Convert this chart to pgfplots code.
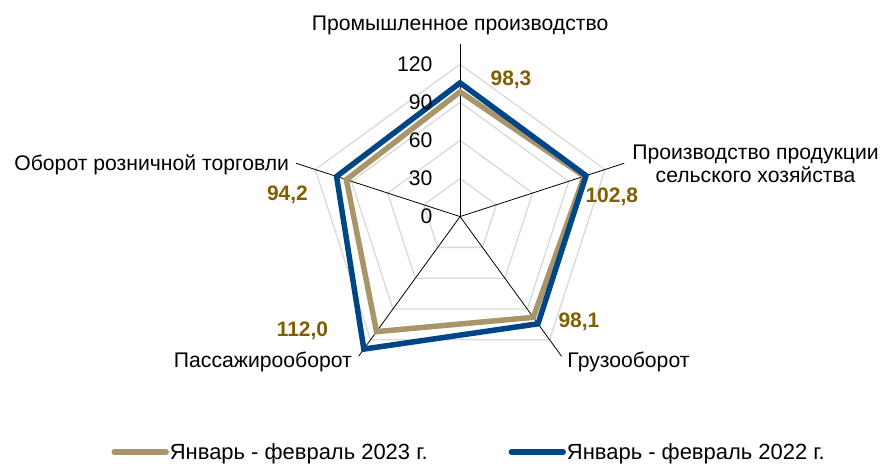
\documentclass[border=0pt]{standalone}
\usepackage{fontspec}
\setmainfont{Liberation Sans}
\usepackage{pgfplots}
\pgfplotsset{compat=1.18}
\definecolor{goldl}{HTML}{A8956A}
\definecolor{bluel}{HTML}{004586}
\definecolor{labc}{HTML}{7F5F00}
\definecolor{gridc}{HTML}{D9D9D9}
\begin{document}
\begin{tikzpicture}[font=\fontsize{21.2}{23.5}\selectfont]
\begin{axis}[x=1.272pt,y=1.272pt,
  xmin=-362.4,xmax=331.0,ymin=-193.4,ymax=170.6,
  hide axis, clip=false, scale only axis,
  legend columns=2,
  legend style={at={(0.123,0.0216)}, anchor=west, draw=none, fill=none,
    font=\fontsize{22}{24}\selectfont,
    nodes={inner sep=1pt},
    /tikz/every even column/.append style={column sep=80pt}},
  legend image code/.code={\draw[#1,line cap=round] (0pt,0pt) -- (52pt,0pt);}
]
\path (rel axis cs:0,0) rectangle (rel axis cs:1,1);
% grid rings
\addplot[gridc, line width=1.3pt, forget plot, data cs=polar] coordinates {(90,30)(18,30)(-54,30)(-126,30)(-198,30)(90,30)(18,30)};
\addplot[gridc, line width=1.3pt, forget plot, data cs=polar] coordinates {(90,60)(18,60)(-54,60)(-126,60)(-198,60)(90,60)(18,60)};
\addplot[gridc, line width=1.3pt, forget plot, data cs=polar] coordinates {(90,90)(18,90)(-54,90)(-126,90)(-198,90)(90,90)(18,90)};
\addplot[gridc, line width=1.3pt, forget plot, data cs=polar] coordinates {(90,120)(18,120)(-54,120)(-126,120)(-198,120)(90,120)(18,120)};
% spokes
\addplot[black, line width=0.8pt, forget plot, data cs=polar] coordinates {(90,0)(90,136)};
\addplot[black, line width=0.8pt, forget plot, data cs=polar] coordinates {(18,0)(18,136)};
\addplot[black, line width=0.8pt, forget plot, data cs=polar] coordinates {(-54,0)(-54,136)};
\addplot[black, line width=0.8pt, forget plot, data cs=polar] coordinates {(-126,0)(-126,136)};
\addplot[black, line width=0.8pt, forget plot, data cs=polar] coordinates {(162,0)(162,136)};
% series
\addplot[goldl, line width=5.5pt, line join=miter, data cs=polar] coordinates {(90,98.3)(18,102.8)(-54,98.1)(-126,112.0)(-198,94.2)(90,98.3)(18,102.8)};
\addlegendentry{Январь - февраль 2023 г.}
\addplot[bluel, line width=5.5pt, line join=miter, data cs=polar] coordinates {(90,105.3)(18,104.3)(-54,104.4)(-126,129)(-198,102.3)(90,105.3)(18,104.3)};
\addlegendentry{Январь - февраль 2022 г.}
% tick labels
\node[anchor=east] at (axis cs:-19,0) {0};
\node[anchor=east] at (axis cs:-19,30) {30};
\node[anchor=east] at (axis cs:-19,60) {60};
\node[anchor=east] at (axis cs:-19,90) {90};
\node[anchor=east] at (axis cs:-19,120) {120};
% category labels
\node at (axis cs:0,150.9) {Промышленное производство};
\node[align=center] at (axis cs:232.7,41.7) {Производство продукции\\сельского хозяйства};
\node[anchor=west] at (axis cs:81.8,-114.8) {Грузооборот};
\node[anchor=east] at (axis cs:-82.5,-114.8) {Пассажирооборот};
\node[anchor=east] at (axis cs:-132,40.9) {Оборот розничной торговли};
% value labels
\node[labc, font=\fontsize{21}{23}\selectfont\bfseries] at (axis cs:40.1,107.7) {98,3};
\node[labc, font=\fontsize{21}{23}\selectfont\bfseries] at (axis cs:119.5,15.7) {102,8};
\node[labc, font=\fontsize{21}{23}\selectfont\bfseries] at (axis cs:93.6,-82.5) {98,1};
\node[labc, font=\fontsize{21}{23}\selectfont\bfseries] at (axis cs:-124.2,-89.6) {112,0};
\node[labc, font=\fontsize{21}{23}\selectfont\bfseries] at (axis cs:-136,17.3) {94,2};
\end{axis}
\end{tikzpicture}
\end{document}
